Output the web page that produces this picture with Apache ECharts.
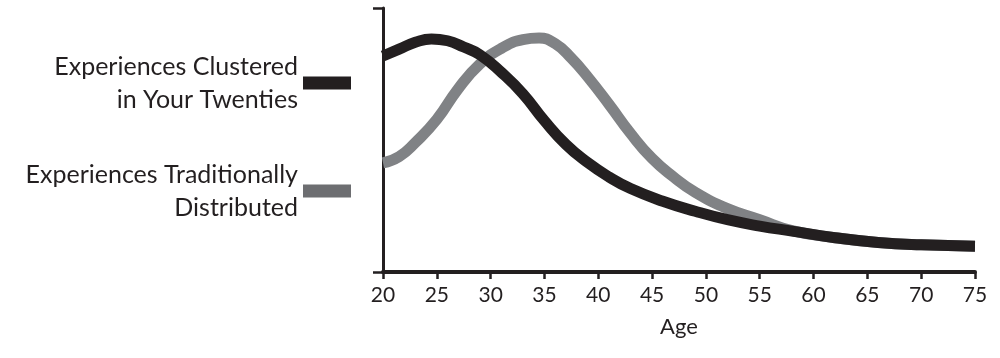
<!DOCTYPE html>
<html>
<head>
<meta charset="utf-8">
<script src="https://cdn.jsdelivr.net/npm/echarts@6/dist/echarts.min.js"></script>
<style>
  html, body { margin: 0; padding: 0; background: #ffffff; }
  #chart { width: 1000px; height: 358px; }
</style>
</head>
<body>
<div id="chart"></div>
<script>
// Values (y in arbitrary units: 0 = x axis, 100 = top of y axis)
var clusteredAges = [20, 21.5, 23, 24.5, 26, 27.5, 29, 31, 33, 35, 37, 39, 41, 43, 46, 49, 52, 55, 58, 62, 66, 70, 75];
var clusteredValues = [81.8, 84.4, 87.0, 88.3, 87.6, 85.2, 82.3, 75.6, 67.5, 57.3, 48.3, 41.5, 36.0, 31.6, 26.8, 23.0, 19.8, 17.4, 15.5, 13.0, 11.2, 10.3, 9.8];
var traditionalAges = [20, 21.5, 23, 25, 27, 29, 31, 33, 34.5, 36, 37.5, 39, 41, 43, 45, 47, 49, 52, 55, 58, 62, 66, 70, 75];
var traditionalValues = [41.3, 43.7, 49.0, 57.8, 69.5, 78.8, 84.7, 88.0, 88.6, 86.5, 81.0, 74.0, 63.5, 52.5, 43.0, 36.0, 30.2, 24.0, 19.8, 15.7, 13.0, 11.2, 10.3, 9.8];
var seriesNames = ['Experiences Clustered\nin Your Twenties', 'Experiences Traditionally\nDistributed'];
var xTicks = [20, 25, 30, 35, 40, 45, 50, 55, 60, 65, 70, 75];
var xAxisName = 'Age';

function pairs(xs, ys) {
  return xs.map(function (x, i) { return [x, ys[i]]; });
}

var FONT = 'Lato';
var INK = '#231f20';
var GRAY = '#808285';

var chart = echarts.init(document.getElementById('chart'), null, { renderer: 'canvas' });
chart.setOption({
  backgroundColor: '#ffffff',
  animation: false,
  grid: { left: 383, right: 25, top: 8, bottom: 86, containLabel: false },
  legend: {
    orient: 'vertical',
    align: 'right',
    right: 649,
    top: 50,
    padding: 0,
    itemGap: 42,
    itemWidth: 48,
    itemHeight: 13,
    icon: 'rect',
    itemStyle: { borderWidth: 0 },
    textStyle: { fontFamily: FONT, fontSize: 25, color: INK, lineHeight: 33, align: 'right' },
    data: [
      { name: seriesNames[0], itemStyle: { color: INK } },
      { name: seriesNames[1], itemStyle: { color: '#6d6e71' } }
    ]
  },
  xAxis: {
    type: 'value',
    min: xTicks[0],
    max: xTicks[xTicks.length - 1],
    interval: 5,
    name: xAxisName,
    nameLocation: 'middle',
    nameGap: 44,
    nameTextStyle: { fontFamily: FONT, fontSize: 22, color: INK },
    axisLine: { show: true, lineStyle: { color: INK, width: 4 } },
    axisTick: { show: true, length: 7, lineStyle: { color: INK, width: 2.5 } },
    axisLabel: { fontFamily: FONT, fontSize: 21, color: INK, margin: 13 },
    splitLine: { show: false }
  },
  yAxis: {
    type: 'value',
    min: 0,
    max: 100,
    interval: 100,
    axisLine: { show: true, lineStyle: { color: INK, width: 3 } },
    axisTick: { show: true, length: 10, lineStyle: { color: INK, width: 2.5 } },
    axisLabel: { show: false },
    splitLine: { show: false }
  },
  series: [
    {
      name: seriesNames[0],
      type: 'line',
      z: 4,
      data: pairs(clusteredAges, clusteredValues),
      smooth: 0.5,
      showSymbol: false,
      color: INK,
      lineStyle: { color: INK, width: 11, cap: 'butt' }
    },
    {
      name: seriesNames[1],
      type: 'line',
      z: 3,
      data: pairs(traditionalAges, traditionalValues),
      smooth: 0.5,
      showSymbol: false,
      color: GRAY,
      lineStyle: { color: GRAY, width: 11, cap: 'butt' }
    }
  ]
});
</script>
</body>
</html>
